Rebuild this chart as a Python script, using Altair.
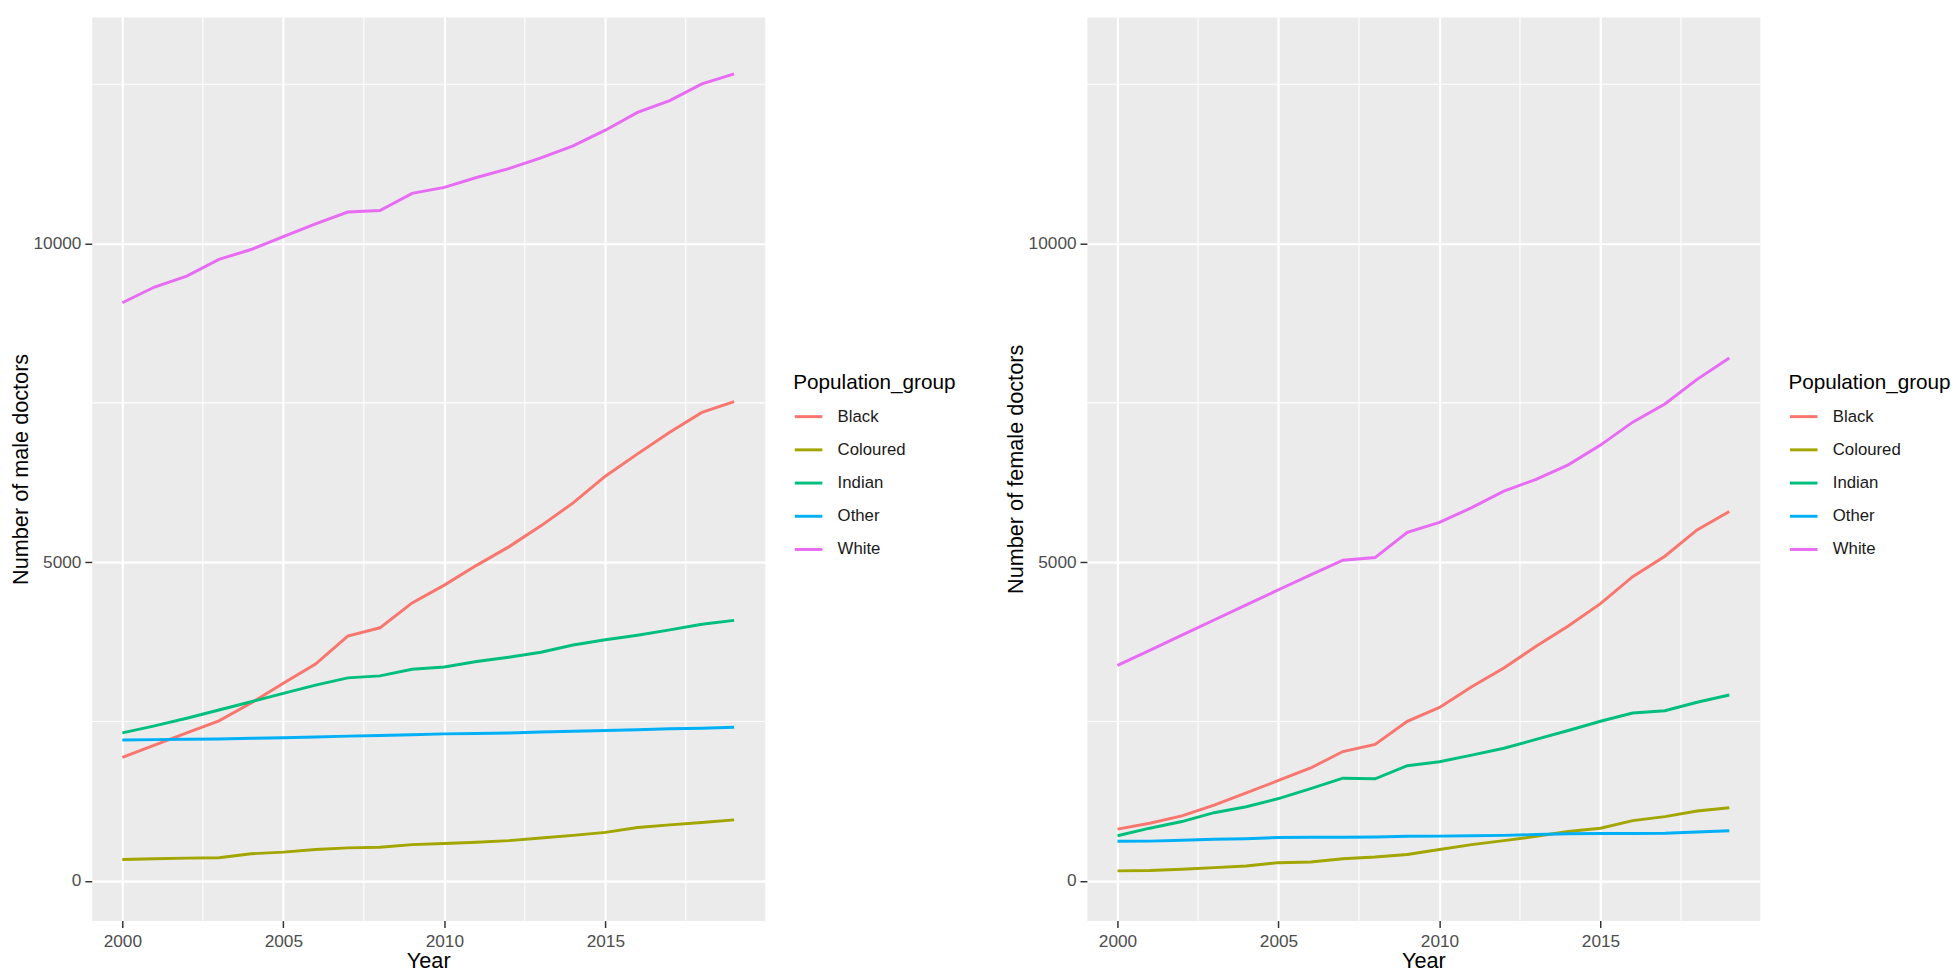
import altair as alt
import pandas as pd

years = list(range(2000, 2020))
groups = ["Black", "Coloured", "Indian", "Other", "White"]
colors = ["#F8766D", "#A3A500", "#00BF7D", "#00B0F6", "#E76BF3"]

male_black = [1935, 2130, 2320, 2510, 2790, 3100, 3400, 3840, 3970, 4360, 4640, 4950, 5240, 5570, 5930, 6350, 6700, 7040, 7350, 7520]
male_coloured = [335, 345, 355, 361, 423, 449, 490, 516, 526, 567, 583, 604, 630, 671, 712, 759, 836, 877, 913, 955]
male_indian = [2320, 2430, 2550, 2680, 2810, 2940, 3070, 3184, 3215, 3318, 3354, 3441, 3509, 3586, 3700, 3782, 3854, 3937, 4025, 4087]
male_other = [2210, 2215, 2220, 2225, 2235, 2245, 2255, 2270, 2280, 2290, 2305, 2310, 2320, 2335, 2345, 2358, 2370, 2385, 2395, 2410]
male_white = [9071, 9319, 9489, 9752, 9907, 10108, 10310, 10495, 10520, 10789, 10882, 11037, 11176, 11347, 11533, 11780, 12059, 12245, 12508, 12663]

female_black = [810, 903, 1017, 1187, 1378, 1574, 1770, 2028, 2141, 2503, 2720, 3045, 3339, 3679, 3999, 4350, 4773, 5093, 5506, 5794]
female_coloured = [155, 160, 181, 206, 232, 284, 294, 345, 372, 413, 490, 567, 630, 697, 774, 825, 944, 1006, 1094, 1146]
female_indian = [707, 825, 929, 1068, 1161, 1290, 1445, 1610, 1600, 1806, 1868, 1971, 2079, 2218, 2358, 2503, 2632, 2668, 2802, 2915]
female_other = [620, 622, 635, 650, 660, 680, 682, 684, 686, 697, 700, 705, 712, 725, 738, 740, 742, 745, 765, 785]
female_white = [3380, 3617, 3855, 4092, 4330, 4567, 4800, 5031, 5072, 5469, 5624, 5856, 6115, 6300, 6528, 6837, 7198, 7482, 7869, 8204]

y_major = [0, 5000, 10000]
y_minor = [2500, 7500, 12500]
x_major = [2000, 2005, 2010, 2015]
x_minor = [2002.5, 2007.5, 2012.5, 2017.5]

FONT = "Liberation Sans"
W, H = 683, 917
XDOM = [1999.05, 2019.95]
YDOM = [-626, 13555]


def long_df(series):
    rows = []
    for g, vals in zip(groups, series):
        for yr, v in zip(years, vals):
            rows.append({"Year": yr, "Count": v, "Population_group": g})
    return pd.DataFrame(rows)


male_df = long_df([male_black, male_coloured, male_indian, male_other, male_white])
female_df = long_df([female_black, female_coloured, female_indian, female_other, female_white])


def panel(df, ytitle):
    xs = alt.Scale(domain=XDOM, nice=False, zero=False)
    ys = alt.Scale(domain=YDOM, nice=False, zero=False)
    xaxis = alt.Axis(values=x_major, format="d", title="Year",
                     labelPadding=5, titlePadding=1)
    yaxis = alt.Axis(values=y_major, format="d", title=ytitle,
                     labelPadding=4, titlePadding=1)
    hmin = alt.Chart(pd.DataFrame({"v": y_minor})).mark_rule(
        color="white", strokeWidth=1.1
    ).encode(y=alt.Y("v:Q", scale=ys, axis=yaxis))
    vmin = alt.Chart(pd.DataFrame({"v": x_minor})).mark_rule(
        color="white", strokeWidth=1.1
    ).encode(x=alt.X("v:Q", scale=xs, axis=xaxis))
    lines = alt.Chart(df).mark_line(strokeWidth=3).encode(
        x=alt.X("Year:Q", scale=xs, axis=xaxis),
        y=alt.Y("Count:Q", scale=ys, axis=yaxis),
        color=alt.Color(
            "Population_group:N",
            scale=alt.Scale(domain=groups, range=colors),
            legend=alt.Legend(
                title="Population_group",
                orient="none",
                legendX=712,
                legendY=360,
                titleFont=FONT,
                titleFontSize=21,
                titleFontWeight="normal",
                titleColor="black",
                titlePadding=9,
                labelFont=FONT,
                labelFontSize=17,
                labelColor="#1A1A1A",
                labelOffset=14,
                symbolType="stroke",
                symbolSize=784,
                symbolStrokeWidth=3,
                rowPadding=9.7,
                padding=0,
            ),
        ),
    )
    return alt.layer(hmin, vmin, lines).properties(width=W, height=H)


left = panel(male_df, "Number of male doctors")
right = panel(female_df, "Number of female doctors")

chart = (
    alt.hconcat(left, right, spacing=47)
    .resolve_scale(color="independent")
    .resolve_legend(color="independent")
    .properties(padding=0)
    .configure_view(fill="#EBEBEB", stroke="transparent")
    .configure_axis(
        labelFont=FONT,
        labelFontSize=17.5,
        labelColor="#4D4D4D",
        tickColor="#333333",
        tickSize=7,
        tickWidth=1.5,
        domain=False,
        grid=True,
        gridColor="white",
        gridWidth=2.2,
        titleFont=FONT,
        titleFontSize=22,
        titleFontWeight="normal",
        titleColor="black",
    )
)

chart.save("out.html", embed_options={"renderer": "svg", "actions": False})
